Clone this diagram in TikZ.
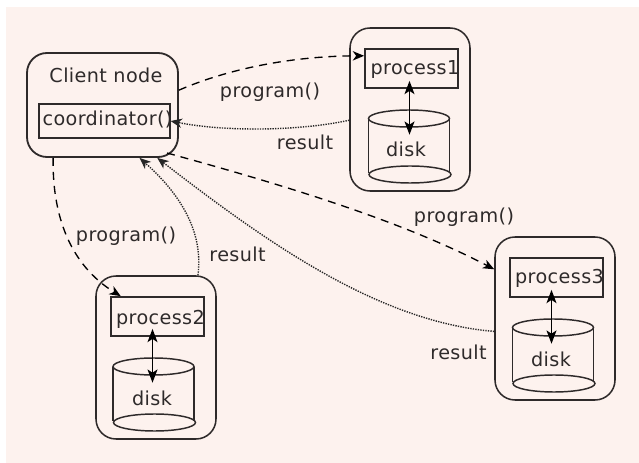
\documentclass[tikz,border=0pt]{standalone}
\usepackage{fontspec}
\setmainfont{DejaVu Sans}[LetterSpace=2]
\usetikzlibrary{arrows.meta}
\definecolor{panel}{HTML}{FDF2EE}
\definecolor{ink}{HTML}{2E2A2A}
\tikzset{
  x=0.75pt,y=-0.75pt,
  outerbox/.style={draw=ink,line width=1.15pt,rounded corners=15pt,inner sep=0pt,minimum width=#1},
  procbox/.style={draw=ink,line width=1.3pt,inner sep=0pt,minimum width=69.75pt,minimum height=29.25pt},
  disk/.style={inner sep=0pt,minimum width=61.5pt,minimum height=54.75pt},
  txt/.style={anchor=base,text=ink,font=\fontsize{14.4}{16}\selectfont,inner sep=0pt},
  callp/.style={draw=black,line width=1pt,dash pattern=on 6pt off 4.5pt,-{Stealth[length=8.5pt,width=7pt,inset=2.5pt]}},
  ret/.style={draw=black!85,line width=1.05pt,dash pattern=on 1pt off 0.9pt,-{Stealth[length=8.5pt,width=7pt,inset=2.5pt]}},
  dbl/.style={draw=black,line width=0.9pt,{Stealth[length=10pt,width=7.5pt,inset=2.5pt]}-{Stealth[length=10pt,width=7.5pt,inset=2.5pt]}},
  diskline/.style={draw=ink,line width=1.1pt}
}
\newcommand{\drawdisk}[2]{%
  \draw[diskline] (#1-41,#2+8.5) -- (#1-41,#2+63);
  \draw[diskline] (#1+40,#2+8.5) -- (#1+40,#2+63);
  \draw[diskline] (#1-0.5,#2+8.5) ellipse [x radius=40.5*0.75pt,y radius=8.5*0.75pt];
  \draw[diskline] (#1+0.5,#2+64.5) ellipse [x radius=41*0.75pt,y radius=8.5*0.75pt];
}
\begin{document}
\begin{tikzpicture}
\useasboundingbox (0,0) rectangle (639,463);
\fill[panel] (6,7) rectangle (639,463);

% client
\node[outerbox=113.25pt,minimum height=78pt,line width=1.35pt] (client) at (102.5,105) {};
\node[draw=ink,line width=0.9pt,inner sep=0pt,minimum width=98.25pt,minimum height=25.5pt] (coord) at (104.5,121) {};
\node[txt] (clientlabel) at (106,82.5) {Client node};
\node[txt] (coordlabel) at (107.5,126) {coordinator()};

% node 1
\node[outerbox=90pt,minimum height=122.25pt] (outer1) at (410,109.5) {};
\node[procbox] (proc1) at (411.5,68.5) {};
\node[txt] (proc1label) at (415,75) {process1};
\node[disk] (disk1) at (409.5,146.5) {};
\drawdisk{409.5}{110}
\node[txt] (disk1label) at (406,157) {disk};

% node 2
\node[outerbox=90pt,minimum height=122.25pt] (outer2) at (156,357.5) {};
\node[procbox] (proc2) at (157.5,316.5) {};
\node[txt] (proc2label) at (160.5,325) {process2};
\node[disk] (disk2) at (152.5,394.5) {};
\drawdisk{154}{358}
\node[txt] (disk2label) at (152,405.5) {disk};

% node 3
\node[outerbox=90pt,minimum height=122.25pt] (outer3) at (555,318.5) {};
\node[procbox] (proc3) at (556.5,277.5) {};
\node[txt] (proc3label) at (559.5,283.5) {process3};
\node[disk] (disk3) at (551.5,355.5) {};
\drawdisk{553.5}{319}
\node[txt] (disk3label) at (551,366) {disk};

% internal arrows
\draw[dbl,shorten <=-6pt,shorten >=-18.75pt] (proc1.south -| disk1.north) -- (disk1.north);
\draw[dbl,shorten <=-6pt,shorten >=-18.75pt] (proc2.south -| disk2.north) -- (disk2.north);
\draw[dbl,shorten <=-6pt,shorten >=-18.75pt] (proc3.south -| disk3.north) -- (disk3.north);

% corner end of connector
\coordinate (clientcorner) at (167,153);

% connectors
\draw[callp] (client.11) .. controls (235,66) and (300,56) .. (proc1.165);
\draw[ret] (outer1.190.8) .. controls (300,131) and (225,132) .. (coord.east);
\draw[callp] (clientcorner) .. controls (280,184) and (400,220) .. (outer3.141.1);
\draw[ret] (outer3.192.7) .. controls (380,322) and (270,245) .. (client.-44.7);
\draw[callp] (client.227) .. controls (52,215) and (70,265) .. (proc2.151.2);
\draw[ret] (outer2.63.9) .. controls (204,230) and (178,192) .. (client.-55);

% labels
\node[txt] (lp1) at (270,98) {program()};
\node[txt] (lr1) at (305,150) {result};
\node[txt] (lp3) at (464,223) {program()};
\node[txt] (lr3) at (458.5,359) {result};
\node[txt] (lp2) at (126,241.5) {program()};
\node[txt] (lr2) at (237.5,262) {result};
\end{tikzpicture}
\end{document}
